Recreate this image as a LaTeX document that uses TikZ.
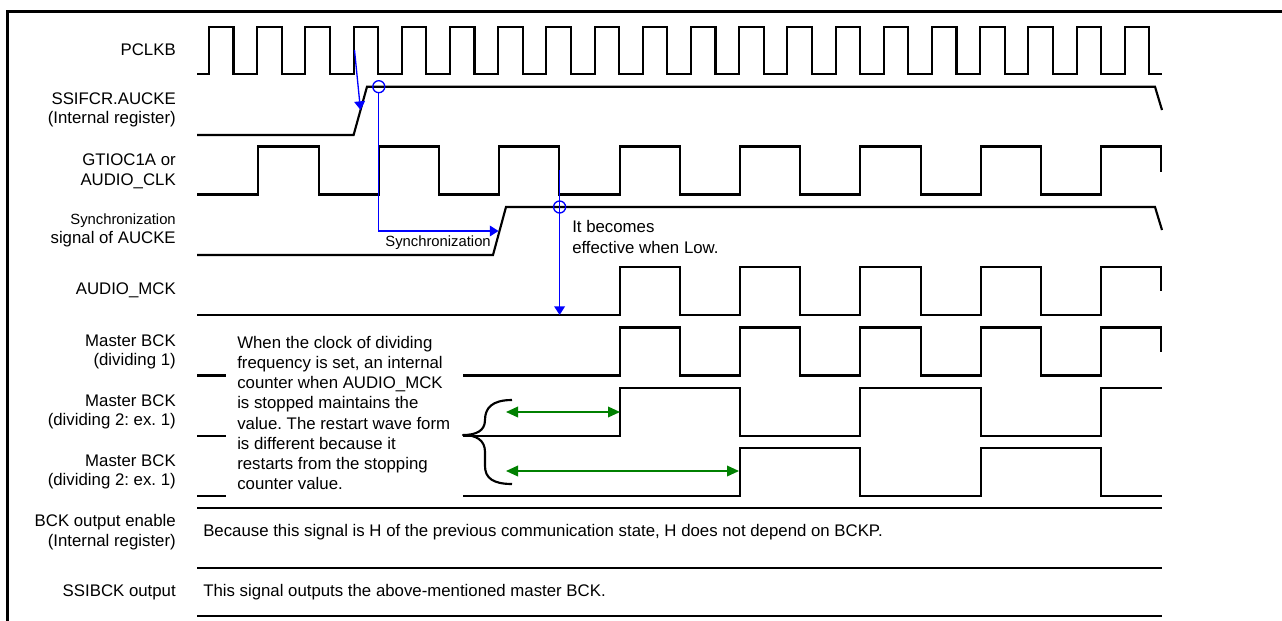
\documentclass[tikz,border=0pt]{standalone}
\usepackage{fontspec}
\setmainfont{Liberation Sans}
\usetikzlibrary{arrows.meta}
\definecolor{grn}{RGB}{0,128,0}
\definecolor{blu}{RGB}{0,0,255}
\frenchspacing
\begin{document}
\frenchspacing
\begin{tikzpicture}[x=0.75pt,y=-0.75pt,
  sig/.style={line width=1.6pt, line join=miter},
  rule/.style={line width=1pt},
  frame/.style={line width=2.3pt},
  bl/.style={draw=blu, line width=1pt},
  blarr/.style={bl, -{Triangle[length=6.5pt,width=8pt]}},
  grarr/.style={draw=grn, line width=1.1pt, {Triangle[length=9pt,width=8pt]}-{Triangle[length=9pt,width=8pt]}},
  mark circ/.style={circle, draw=blu, line width=1pt, minimum size=9pt, inner sep=0pt},
  lab/.style={anchor=east, align=right, inner sep=0pt, font=\fontsize{12.6}{14.8}\selectfont},
  txt/.style={anchor=west, align=left, inner sep=0pt, font=\fontsize{12.6}{15.2}\selectfont\frenchspacing},
  smalltxt/.style={inner sep=0pt, font=\fontsize{11.1}{13}\selectfont}
]
\useasboundingbox (0,0) rectangle (1282,621);
% frame (top and left)
\draw[frame] (7.3,621) -- (7.3,11.7) -- (1282,11.7);

% labels
\node[lab] (lpclkb) at (176,50) {PCLKB};
\node[lab] (lauck) at (176,110) {SSIFCR.AUCKE\\(Internal register)};
\node[lab] (lgt) at (176,171) {GTIOC1A or\\AUDIO\_CLK};
\node[lab, smalltxt, anchor=east] (lsyn1) at (176,221) {Synchronization};
\node[lab] (lsyn2) at (176,239.5) {signal of AUCKE};
\node[lab] (lmck) at (176,290) {AUDIO\_MCK};
\node[lab] (lb1) at (176,352) {Master BCK\\(dividing 1)};
\node[lab] (lb2) at (176,412) {Master BCK\\(dividing 2: ex. 1)};
\node[lab] (lb3) at (176,472) {Master BCK\\(dividing 2: ex. 1)};
\node[lab] (len) at (176,532.5) {BCK output enable\\(Internal register)};
\node[lab] (lout) at (176,592) {SSIBCK output};

% PCLKB
\draw[sig] (197,74) foreach \k in {0,...,19} { -- ({209+48.2*\k},74) -- ++(0,-47.3) -- ++(24.5,0) -- ++(0,47.3) } -- (1162,74);
% SSIFCR.AUCKE
\draw[sig] (197,135) -- (353.6,135) -- (367,86.7) -- (1155,86.7) -- (1162,110);
% GTIOC1A
\draw[sig] (197,194.5) foreach \k in {0,...,6} { -- ({258.4+120.4*\k},194.5) -- ++(0,-48) -- ++(60.2,0) -- ++(0,48) } -- (1101.2,194.5) -- (1101.2,146.5) -- (1161,146.5) -- (1161,172);
% Sync signal
\draw[sig] (197,255) -- (493,255) -- (506,207) -- (1155,207) -- (1162,230);
% AUDIO_MCK
\draw[sig] (197,315) foreach \k in {3,...,6} { -- ({258.4+120.4*\k},315) -- ++(0,-48) -- ++(60.2,0) -- ++(0,48) } -- (1101.2,315) -- (1101.2,267) -- (1161,267) -- (1161,291);
% Master BCK dividing 1
\draw[sig] (197,375.5) -- (226,375.5);
\draw[sig] (463,375.5) foreach \k in {3,...,6} { -- ({258.4+120.4*\k},375.5) -- ++(0,-48) -- ++(60.2,0) -- ++(0,48) } -- (1101.2,375.5) -- (1101.2,327.5) -- (1161,327.5) -- (1161,351.5);
% Master BCK dividing 2 (a)
\draw[sig] (197,436) -- (226,436);
\draw[sig] (463,436) -- (619.6,436) -- (619.6,388) -- (740,388) -- (740,436) -- (860.4,436) -- (860.4,388) -- (980.8,388) -- (980.8,436) -- (1101.2,436) -- (1101.2,388) -- (1162,388);
% Master BCK dividing 2 (b)
\draw[sig] (197,496) -- (226,496);
\draw[sig] (463,496) -- (740,496) -- (740,448) -- (860.4,448) -- (860.4,496) -- (980.8,496) -- (980.8,448) -- (1101.2,448) -- (1101.2,496) -- (1162,496);

% brace
\draw[sig, line join=round] (512,400) .. controls (492,400) and (485,408) .. (485,420) .. controls (485,431) and (476,435) .. (463,435)
  .. controls (476,435) and (485,440) .. (485,452) -- (485,466) .. controls (485,478) and (493,484) .. (512,484);

% table rules
\draw[rule] (197,508) -- (1162,508);
\draw[rule] (197,568) -- (1162,568);
\draw[rule] (197,616) -- (1162,616);

% texts
\node[txt] (note) at (237,413) {When the clock of dividing\\frequency is set, an internal\\counter when AUDIO\_MCK\\is stopped maintains the\\value. The restart wave form\\is different because it\\restarts from the stopping\\counter value.};
\node[txt] (eff) at (572,237) {It becomes\\effective when Low.};
\node[smalltxt, anchor=east] (synt) at (491,243) {Synchronization};
\node[txt] (because) at (203,532) {Because this signal is H of the previous communication state, H does not depend on BCKP.};
\node[txt] (ssib) at (203,592) {This signal outputs the above-mentioned master BCK.};

% blue annotations
\coordinate (p3) at (354.5,50);
\coordinate (ak) at (360.5,110);
\node[mark circ] (c1) at (378.8,86.7) {};
\coordinate (sy) at (498.5,231);
\draw[blarr] (p3) -- (ak);
\draw[blarr] (c1.south) |- (sy);
\coordinate (g3f) at (559.6,170);
\node[mark circ] (c2) at (559.6,207) {};
\coordinate (m3) at (559.6,315);
\draw[blarr] (g3f) -- (m3);

% green arrows
\coordinate (ga1) at (506,412);
\coordinate (ga2) at (620,412);
\coordinate (gb1) at (506,471);
\coordinate (gb2) at (739,471);
\draw[grarr] (ga1) -- (ga2);
\draw[grarr] (gb1) -- (gb2);
\end{tikzpicture}
\end{document}
